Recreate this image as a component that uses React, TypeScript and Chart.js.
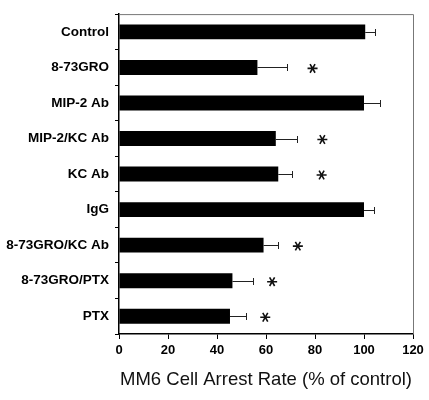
import React, { useEffect, useRef } from "react";
import { Chart, registerables } from "chart.js";

Chart.register(...registerables);

const categories = [
  "Control",
  "8-73GRO",
  "MIP-2 Ab",
  "MIP-2/KC Ab",
  "KC Ab",
  "IgG",
  "8-73GRO/KC Ab",
  "8-73GRO/PTX",
  "PTX",
];
const arrestRate = [100.5, 56.5, 100, 64, 65, 100, 59, 46.3, 45.3];
const errorSE = [4, 12, 6.5, 8.6, 5.6, 4, 6, 8.5, 6.5];
const significanceMarkAt: (number | null)[] = [null, 79, null, 83, 82.7, null, 73, 62.5, 59.7];
const xTicks = [0, 20, 40, 60, 80, 100, 120];

const overlayPlugin = {
  id: "overlay",
  afterDatasetsDraw(chart: any) {
    const { ctx, chartArea, scales } = chart;
    const xs = scales.x;
    const ys = scales.y;
    ctx.save();
    // frame top & right
    ctx.strokeStyle = "#777";
    ctx.lineWidth = 1;
    ctx.beginPath();
    ctx.moveTo(chartArea.left, chartArea.top + 0.5);
    ctx.lineTo(chartArea.right + 0.5, chartArea.top + 0.5);
    ctx.lineTo(chartArea.right + 0.5, chartArea.bottom);
    ctx.stroke();
    // error bars
    ctx.strokeStyle = "#222";
    ctx.lineWidth = 1;
    arrestRate.forEach((v, i) => {
      const y = Math.round(ys.getPixelForValue(i)) + 0.5;
      const x0 = xs.getPixelForValue(v);
      const x1 = Math.round(xs.getPixelForValue(v + errorSE[i])) + 0.5;
      ctx.beginPath();
      ctx.moveTo(x0, y);
      ctx.lineTo(x1, y);
      ctx.moveTo(x1, y - 3.5);
      ctx.lineTo(x1, y + 3.5);
      ctx.stroke();
    });
    // significance asterisks
    ctx.strokeStyle = "#111";
    ctx.lineWidth = 1.6;
    significanceMarkAt.forEach((m, i) => {
      if (m == null) return;
      const cx = xs.getPixelForValue(m);
      const cy = ys.getPixelForValue(i) + 1;
      const r = 5;
      ctx.beginPath();
      for (let k = 0; k < 3; k++) {
        const a = (k * Math.PI) / 3;
        ctx.moveTo(cx - r * Math.cos(a), cy - r * Math.sin(a));
        ctx.lineTo(cx + r * Math.cos(a), cy + r * Math.sin(a));
      }
      ctx.stroke();
    });
    ctx.restore();
  },
};

export default function App() {
  const ref = useRef<HTMLCanvasElement | null>(null);
  useEffect(() => {
    if (!ref.current) return;
    const chart = new Chart(ref.current, {
      type: "bar",
      data: {
        labels: categories,
        datasets: [
          {
            data: arrestRate,
            backgroundColor: "#000",
            borderWidth: 0,
            barPercentage: 0.42,
            categoryPercentage: 1,
          },
        ],
      },
      options: {
        indexAxis: "y",
        responsive: false,
        animation: false,
        layout: { padding: { top: 9, right: 16, bottom: 0, left: 0 } },
        plugins: { legend: { display: false }, tooltip: { enabled: false } },
        scales: {
          x: {
            min: 0,
            max: 120,
            afterBuildTicks: (scale: any) => {
              scale.ticks = xTicks.map((v) => ({ value: v }));
            },
            afterFit: (scale: any) => {
              scale.height = 66;
            },
            grid: { drawOnChartArea: false, drawTicks: true, tickLength: 5, color: "#000" },
            border: { color: "#000", width: 1.5 },
            ticks: {
              color: "#000",
              padding: 4,
              maxRotation: 0,
              font: { family: "'Liberation Sans', Arial, sans-serif", size: 13, weight: "bold" },
            },
            title: {
              display: true,
              text: "MM6 Cell Arrest Rate (% of control)",
              color: "#111",
              padding: { top: 4, bottom: 9 },
              font: { family: "'Liberation Sans', Arial, sans-serif", size: 18.5, weight: "normal" },
            },
          },
          y: {
            afterFit: (scale: any) => {
              scale.width = 119;
            },
            grid: { drawOnChartArea: false, drawTicks: true, tickLength: 4, color: "#000", offset: true },
            border: { color: "#000", width: 1.5 },
            ticks: {
              color: "#000",
              padding: 6,
              autoSkip: false,
              font: { family: "'Liberation Sans', Arial, sans-serif", size: 13.5, weight: "bold" },
            },
          },
        },
      },
      plugins: [overlayPlugin],
    } as any);
    return () => chart.destroy();
  }, []);
  return (
    <div style={{ position: "fixed", left: 0, top: 0, width: 429, height: 400, background: "#fff" }}>
      <canvas ref={ref} width={429} height={400} style={{ display: "block" }} />
    </div>
  );
}
